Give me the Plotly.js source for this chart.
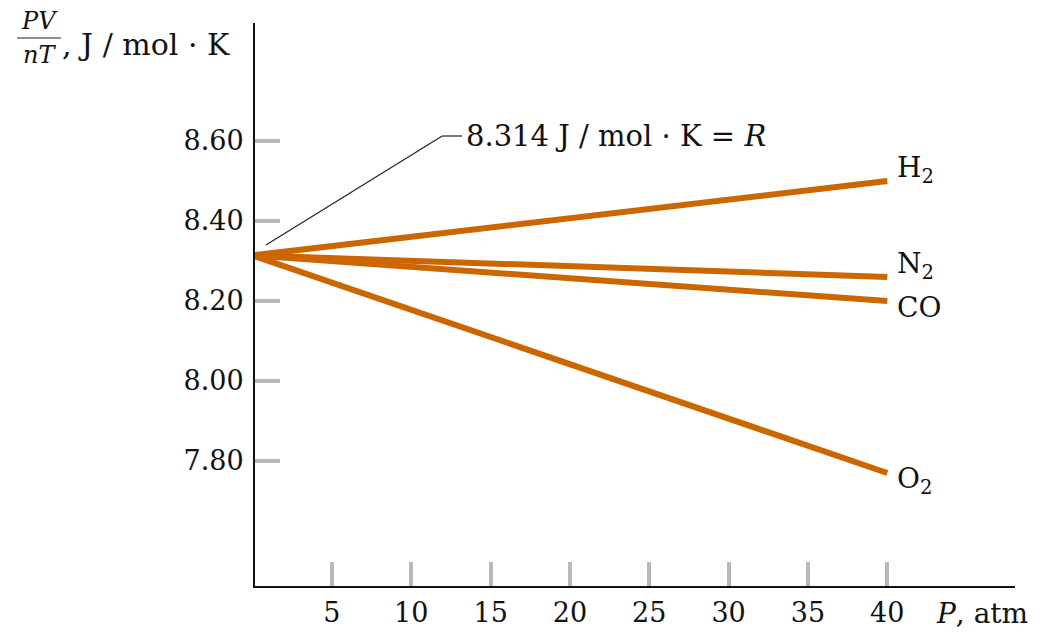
<!DOCTYPE html>
<html><head><meta charset="utf-8">
<script src="https://cdn.plot.ly/plotly-3.0.1.min.js"></script>
<style>body{margin:0;background:#fff}#c{width:1049px;height:633px}</style>
</head><body><div id="c"></div>
<script>
const pressure = [0, 40];
const gases = ["H<sub>2</sub>", "N<sub>2</sub>", "CO", "O<sub>2</sub>"];
const H2 = [8.314, 8.50];
const N2 = [8.314, 8.26];
const CO = [8.314, 8.20];
const O2 = [8.314, 7.77];
const seriesValues = [H2, N2, CO, O2];
const xTicks = [5, 10, 15, 20, 25, 30, 35, 40];
const yTicks = [7.80, 8.00, 8.20, 8.40, 8.60];
const yTickText = ["7.80", "8.00", "8.20", "8.40", "8.60"];
const R = 8.314;

const FONT = "DejaVu Serif, serif";
const FS = 26;
const FA = 28;
const orange = "rgb(204,102,0)";

const traces = seriesValues.map((v, i) => ({
  x: pressure, y: v, type: "scatter", mode: "lines",
  line: {color: orange, width: 6}, name: gases[i], hoverinfo: "skip"
}));

const W = 1049, H = 633, L = 255, Rm = 34, T = 23, B = 47;
const pw = W - L - Rm, ph = H - T - B;
function px(xp){return (xp - L)/pw;}
function py(yp){return (H - B - yp)/ph;}

const labelY = [8.53, 8.288, 8.185, 7.752];
const annotations = gases.map((g, i) => ({
  x: 40, y: labelY[i], xref: "x", yref: "y", text: g, showarrow: false,
  xanchor: "left", yanchor: "middle", xshift: 8,
  font: {family: FONT, size: FA, color: "#111"}
}));
annotations.push({
  x: 13.3, y: 8.6125, xref: "x", yref: "y", xanchor: "left", yanchor: "middle",
  text: R + " J / mol · K = <i>R</i>", showarrow: false,
  font: {family: FONT, size: 29, color: "#111"}
});
annotations.push({x: px(1030), y: py(614), xref:"paper", yref:"paper", showarrow:false,
  text: "<i>P</i>, atm", xanchor:"right", yanchor:"middle",
  font: {family: FONT, size: FA, color: "#111"}});
annotations.push({x: px(39), y: py(21), xref:"paper", yref:"paper", showarrow:false, text:"<i>PV</i>",
  font:{family: FONT, size: 24, color:"#111"}, xanchor:"center", yanchor:"middle"});
annotations.push({x: px(39), y: py(55), xref:"paper", yref:"paper", showarrow:false, text:"<i>nT</i>",
  font:{family: FONT, size: 24, color:"#111"}, xanchor:"center", yanchor:"middle"});
annotations.push({x: px(60), y: py(44), xref:"paper", yref:"paper", showarrow:false, text:", J / mol · K",
  font:{family: FONT, size: 30, color:"#111"}, xanchor:"left", yanchor:"middle"});

const shapes = [
  {type:"line", xref:"x", yref:"y", x0:0.84, y0:8.34, x1:11.95, y1:8.6125, line:{color:"#222", width:1.2}},
  {type:"line", xref:"x", yref:"y", x0:11.95, y0:8.6125, x1:13.2, y1:8.6125, line:{color:"#222", width:1.2}},
  {type:"line", xref:"paper", yref:"paper", x0:px(17), x1:px(61), y0:py(38), y1:py(38), line:{color:"#222", width:1.2}}
];

const layout = {
  width: W, height: H, margin: {l: L, r: Rm, t: T, b: B},
  paper_bgcolor: "#fff", plot_bgcolor: "#fff", showlegend: false,
  font: {family: FONT, size: FS, color: "#111"},
  xaxis: {range: [0.15, 48.05], tickvals: xTicks, ticktext: xTicks.map(String),
    ticks: "inside", ticklen: 24, tickwidth: 4, tickcolor: "#b8b8b8",
    showline: true, linecolor: "#111", linewidth: 2, showgrid: false, zeroline: false,
    ticklabelstandoff: 2,
    tickfont: {family: FONT, size: 27, color: "#111"}, fixedrange: true},
  yaxis: {range: [7.4875, 8.895], tickvals: yTicks, ticktext: yTickText,
    ticks: "inside", ticklen: 25, tickwidth: 4, tickcolor: "#b8b8b8",
    showline: true, linecolor: "#111", linewidth: 2, showgrid: false, zeroline: false,
    ticklabelstandoff: 4,
    tickfont: {family: FONT, size: 27, color: "#111"}, fixedrange: true},
  annotations: annotations, shapes: shapes
};
Plotly.newPlot("c", traces, layout, {staticPlot: true, displayModeBar: false});
</script></body></html>
